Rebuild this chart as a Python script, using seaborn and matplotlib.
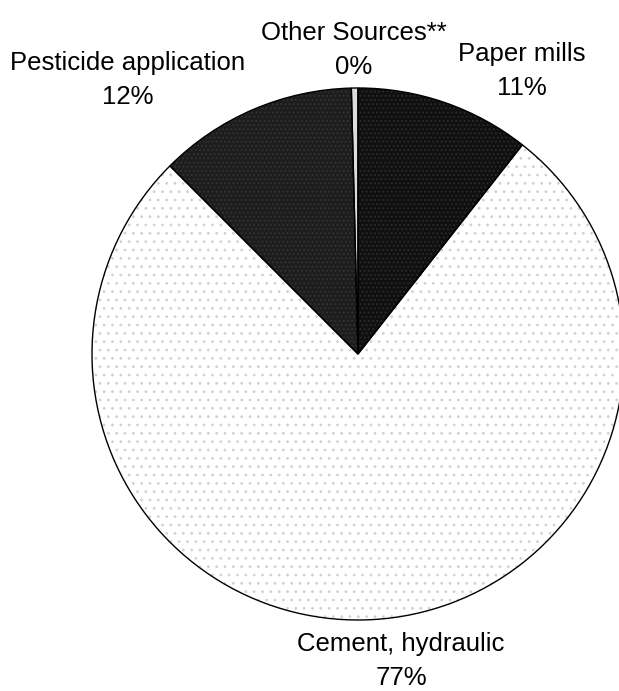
import matplotlib
matplotlib.use("Agg")
import matplotlib.pyplot as plt
import seaborn as sns

sns.set_theme(style="white")
plt.rcParams["font.family"] = ["Liberation Sans", "DejaVu Sans"]
plt.rcParams["hatch.linewidth"] = 0.8

# Emission sources and their shares (percent)
sources = ["Paper mills", "Cement, hydraulic", "Pesticide application", "Other Sources**"]
shares = [10.6, 76.9, 12.1, 0.4]

fill_colors = ["#101010", "#ffffff", "#1d1d1d", "#dcdcdc"]
dot_colors = ["#2c2c2c", "#d2d2d2", "#343434", "#dcdcdc"]
hatches = ["....", "..", "....", ""]

fig = plt.figure(figsize=(6.19, 6.91), dpi=100)
# pie centred near (358, 354) px with radius ~266 px
cx, cy, r = 358, 354, 266
W, H = 619, 691
ax = fig.add_axes([(cx - r) / W, (H - cy - r) / H, 2 * r / W, 2 * r / H])

# textured fill layer
fills, _ = ax.pie(shares, colors=fill_colors, startangle=90, counterclock=False,
                  wedgeprops=dict(linewidth=0))
for w, dc, h in zip(fills, dot_colors, hatches):
    w.set_edgecolor(dc)
    w.set_hatch(h)
    w.set_linewidth(0)

# outline layer
outlines, _ = ax.pie(shares, colors=["none"] * len(shares), startangle=90,
                     counterclock=False,
                     wedgeprops=dict(edgecolor="black", linewidth=1.0, fill=False))
ax.set_aspect("equal")
ax.set_xlim(-1, 1)
ax.set_ylim(-1, 1)
ax.axis("off")
for w in list(fills) + list(outlines):
    w.set_clip_on(False)

# category labels with rounded percentages
label_pos = {
    "Paper mills": (522, 71),
    "Cement, hydraulic": (401, 661),
    "Pesticide application": (128, 80),
    "Other Sources**": (354, 50),
}
for name, val in zip(sources, shares):
    px, py = label_pos[name]
    fig.text(px / W, 1 - py / H, f"{name}\n{val:.0f}%", ha="center", va="center",
             multialignment="center", fontsize=18.5, color="black", linespacing=1.5)

fig.savefig("out.png", dpi=100)
